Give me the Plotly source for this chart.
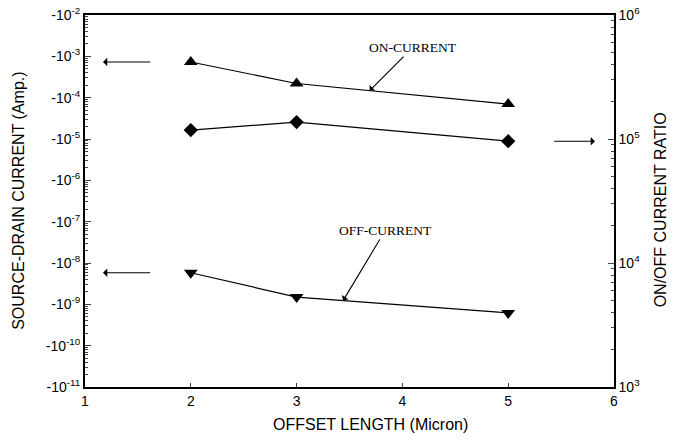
import numpy as np
import plotly.graph_objects as go

# ---- data ----
offset = [2, 3, 5]
on_current = [7.3e-4, 2.2e-4, 7.0e-5]      # |I| (A), plotted as -I
off_current = [5.8e-9, 1.5e-9, 6.2e-10]    # |I| (A)
on_off_ratio = [1.18e5, 1.37e5, 9.6e4]

left_exps = list(range(-2, -12, -1))
left_tickvals = [10.0 ** e for e in left_exps]
left_ticktext = [f"-10<sup>{e}</sup>" for e in left_exps]
right_exps = [3, 4, 5, 6]
right_tickvals = [10.0 ** e for e in right_exps]
right_ticktext = [f"10<sup>{e}</sup>" for e in right_exps]
x_ticks = [1, 2, 3, 4, 5, 6]

FONT = "Liberation Sans, Arial, sans-serif"
SERIF = "Liberation Serif, Times New Roman, serif"

fig = go.Figure()
line = dict(color="black", width=1.2)
fig.add_trace(go.Scatter(x=offset, y=on_current, mode="lines+markers",
                         line=line, marker=dict(symbol="triangle-up", size=12, color="black"),
                         yaxis="y"))
fig.add_trace(go.Scatter(x=offset, y=off_current, mode="lines+markers",
                         line=line, marker=dict(symbol="triangle-down", size=12, color="black"),
                         yaxis="y"))
fig.add_trace(go.Scatter(x=offset, y=on_off_ratio, mode="lines+markers",
                         line=line, marker=dict(symbol="diamond", size=11, color="black"),
                         yaxis="y2"))

ann = []
# left-pointing arrows to the left axis
for yv in (on_current[0], off_current[0]):
    ly = np.log10(yv)
    ann.append(dict(x=1.17, y=ly, ax=1.63, ay=ly, xref="x", yref="y", axref="x", ayref="y",
                    showarrow=True, arrowhead=1, arrowsize=1.3, arrowwidth=1.1, text="",
                    arrowcolor="black"))
# right-pointing arrow to the right axis
ry = np.log10(on_off_ratio[-1])
ann.append(dict(x=5.82, y=ry, ax=5.42, ay=ry, xref="x", yref="y2", axref="x", ayref="y2",
                showarrow=True, arrowhead=1, arrowsize=1.3, arrowwidth=1.1, text="",
                arrowcolor="black"))

def interp_log(xq, xs, ys):
    return float(np.interp(xq, xs, np.log10(ys)))

ann.append(dict(x=3.69, y=interp_log(3.69, offset, on_current), xref="x", yref="y",
                text="ON-CURRENT", showarrow=True, ax=43, ay=-43, arrowhead=1,
                arrowsize=1.2, arrowwidth=1.1, arrowcolor="black",
                font=dict(family=SERIF, size=13.5, color="black")))
ann.append(dict(x=3.44, y=interp_log(3.44, offset, off_current), xref="x", yref="y",
                text="OFF-CURRENT", showarrow=True, ax=42, ay=-70, arrowhead=1,
                arrowsize=1.2, arrowwidth=1.1, arrowcolor="black",
                font=dict(family=SERIF, size=13.5, color="black")))

# axis titles
ann.append(dict(x=-0.127, y=0.5, xref="paper", yref="paper", text="SOURCE-DRAIN CURRENT (Amp.)",
                textangle=-90, showarrow=False, xanchor="center", yanchor="middle",
                font=dict(family=FONT, size=16, color="black")))
ann.append(dict(x=1.087, y=0.475, xref="paper", yref="paper", text="ON/OFF CURRENT RATIO",
                textangle=-90, showarrow=False, xanchor="center", yanchor="middle",
                font=dict(family=FONT, size=16, color="black")))
ann.append(dict(x=0.54, y=-0.102, xref="paper", yref="paper", text="OFFSET LENGTH (Micron)",
                showarrow=False, xanchor="center", yanchor="middle",
                font=dict(family=FONT, size=16, color="black")))

fig.update_layout(
    width=673, height=443,
    margin=dict(l=85, r=59, t=15, b=56, autoexpand=False),
    paper_bgcolor="white", plot_bgcolor="white",
    showlegend=False,
    font=dict(family=FONT, size=14, color="black"),
    xaxis=dict(range=[1, 6], tickvals=x_ticks, ticks="inside", ticklen=4,
               showline=True, linecolor="black", linewidth=2, mirror=True,
               showgrid=False, zeroline=False, automargin=False),
    yaxis=dict(type="log", range=[-11, -2], tickvals=left_tickvals, ticktext=left_ticktext,
               ticks="inside", ticklen=6, showline=True, linecolor="black", linewidth=2,
               showgrid=False, zeroline=False, automargin=False,
               minor=dict(dtick="D1", ticks="inside", ticklen=3, showgrid=False)),
    yaxis2=dict(type="log", range=[3, 6], tickvals=right_tickvals, ticktext=right_ticktext,
                overlaying="y", side="right", ticks="inside", ticklen=6,
                showline=True, linecolor="black", linewidth=1.5, showgrid=False,
                zeroline=False, automargin=False,
                minor=dict(dtick="D1", ticks="inside", ticklen=3, showgrid=False)),
    annotations=ann,
)
fig.write_html("out.html", config={"displayModeBar": False},
               post_script="document.body.style.margin='0';")
